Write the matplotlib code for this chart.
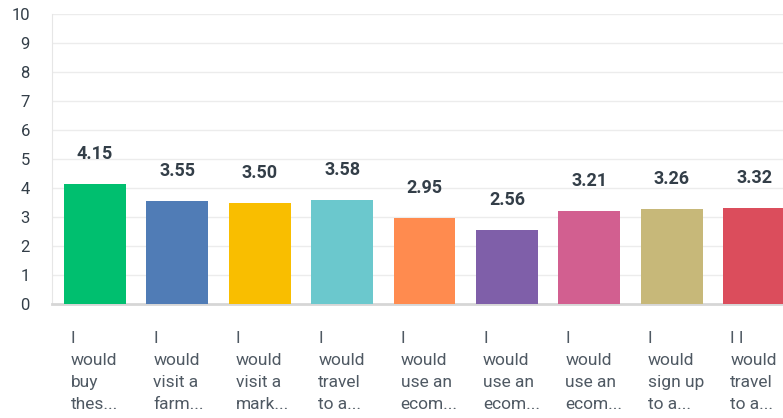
import matplotlib.pyplot as plt
import numpy as np

plt.rcParams['font.family'] = ['Roboto', 'DejaVu Sans']

labels = ["I\nwould\nbuy\nthes...", "I\nwould\nvisit a\nfarm...", "I\nwould\nvisit a\nmark...",
          "I\nwould\ntravel\nto a...", "I\nwould\nuse an\necom...", "I\nwould\nuse an\necom...",
          "I\nwould\nuse an\necom...", "I\nwould\nsign up\nto a...", "I I\nwould\ntravel\nto a..."]
scores = [4.15, 3.55, 3.50, 3.58, 2.95, 2.56, 3.21, 3.26, 3.32]
colors = ['#00bf6f', '#507cb6', '#f9be00', '#6bc8cd', '#ff8b4f',
          '#7f5fa9', '#d25f90', '#c7b879', '#db4d5c']

fig = plt.figure(figsize=(7.83, 4.18), dpi=100)
ax = fig.add_axes([52/783, 114/418, 1 - 52/783, 290/418])

x = np.arange(len(scores))
ax.bar(x, scores, width=0.75, color=colors, zorder=3)

for xi, v in zip(x, scores):
    ax.annotate(f"{v:.2f}", (xi, v), xytext=(0, 18), textcoords='offset points',
                ha='center', va='baseline', fontsize=13, fontweight='bold', color='#333e48')

for xi, lab in zip(x, labels):
    ax.text(xi - 0.29, -0.092, lab, transform=ax.get_xaxis_transform(),
            ha='left', va='top', fontsize=12.5, color='#4f5963', linespacing=1.6)

ax.set_xlim(-0.52, 8.35)
ax.set_ylim(0, 10)
ax.set_yticks(range(11))
ax.set_xticks([])
ax.tick_params(axis='y', length=0, pad=16, labelsize=12, labelcolor='#333e48')
ax.grid(axis='y', color='#ececec', linewidth=1, zorder=0)
for s in ['top', 'right']:
    ax.spines[s].set_visible(False)
ax.spines['left'].set_color('#e6e6e6')
ax.spines['bottom'].set_color('#d6d6d6')
ax.spines['bottom'].set_linewidth(2)

fig.savefig('out.png', dpi=100)
